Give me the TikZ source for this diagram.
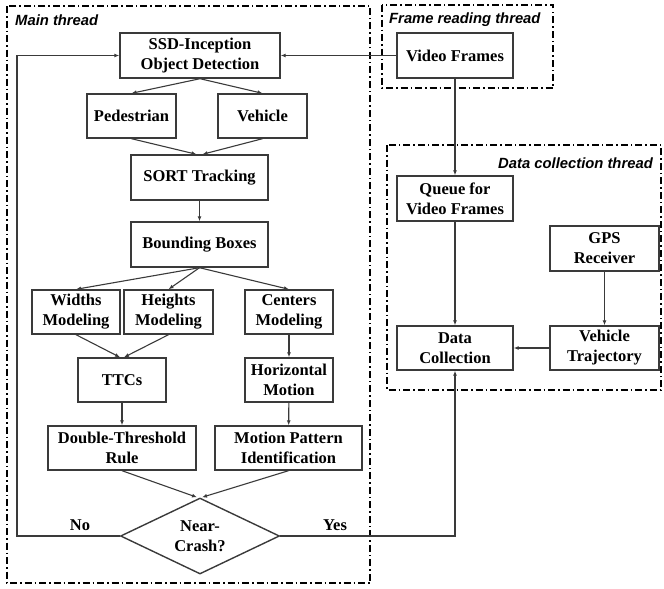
\documentclass[tikz,border=0pt]{standalone}
\usepackage{fontspec}
\setmainfont{Liberation Serif}
\newfontfamily\threadfont{Liberation Sans}
\usepackage{tikz}
\usetikzlibrary{shapes.geometric,arrows.meta}
\definecolor{linegray}{HTML}{3A3A3A}

\begin{document}
\begin{tikzpicture}[x=1pt,y=-1pt,
	box/.style={draw=linegray,line width=1.4pt,align=center,inner sep=1pt,
		font=\fontsize{16.5}{20}\selectfont\bfseries},
	link/.style={draw=linegray,line width=1.1pt,-{Latex[length=5pt,width=4pt]}},
	frame/.style={line width=1.6pt,dash pattern=on 7pt off 3pt on 1.5pt off 3pt},
	threadlabel/.style={font=\threadfont\fontsize{14.8}{17}\selectfont\bfseries\itshape,inner sep=0pt}]
	  \useasboundingbox (0,0) rectangle (664,589);
	  % thread frames
	  \draw [frame] (7,6) rectangle (370,583);
	  \draw [frame] (382,5) rectangle (553,88);
	  \draw [frame] (387,145) rectangle (661,390);
	  \node [threadlabel,anchor=west] (mainlbl) at (15,20) {Main thread};
	  \node [threadlabel,anchor=west] (framelbl) at (389,20) {Frame reading thread};
	  \node [threadlabel,anchor=east] (datalbl) at (653,163) {Data collection thread};
	  % main thread
	  \node [box,minimum width=160,minimum height=45] (ssd) at (200,55.5) {SSD-Inception\\Object Detection};
	  \node [box,minimum width=89,minimum height=44] (ped) at (131.5,116) {Pedestrian};
	  \node [box,minimum width=89,minimum height=44] (veh) at (262.5,116) {Vehicle};
	  \node [box,minimum width=137,minimum height=45] (sort) at (199.5,177.5) {SORT Tracking};
	  \node [box,minimum width=137,minimum height=45] (bbox) at (199.5,244.5) {Bounding Boxes};
	  \node [box,minimum width=88,minimum height=44] (wid) at (76,312) {Widths\\Modeling};
	  \node [box,minimum width=89,minimum height=44] (hei) at (168.5,312) {Heights\\Modeling};
	  \node [box,minimum width=88,minimum height=44] (cen) at (289,312) {Centers\\Modeling};
	  \node [box,minimum width=88,minimum height=44] (ttc) at (122,380) {TTCs};
	  \node [box,minimum width=88,minimum height=44] (hor) at (289,380) {Horizontal\\Motion};
	  \node [box,minimum width=148,minimum height=44] (dtr) at (122,448) {Double-Threshold\\Rule};
	  \node [box,minimum width=147,minimum height=44] (mpi) at (288.5,448) {Motion Pattern\\Identification};
	  \node [box,diamond,aspect=2,inner sep=0pt,minimum width=159,minimum height=76] (crash) at (200,536) {Near-\\Crash?};
	  \node [font=\fontsize{16.5}{20}\selectfont\bfseries] (nolbl) at (80,525) {No};
	  \node [font=\fontsize{16.5}{20}\selectfont\bfseries] (yeslbl) at (335,525) {Yes};
	  % other threads
	  \node [box,minimum width=116,minimum height=45] (vid) at (455,55.5) {Video Frames};
	  \node [box,minimum width=116,minimum height=45] (queue) at (455,198.5) {Queue for\\Video Frames};
	  \node [box,minimum width=109,minimum height=45] (gps) at (604.5,248.5) {GPS\\Receiver};
	  \node [box,minimum width=116,minimum height=44] (dcol) at (455,348) {Data\\Collection};
	  \node [box,minimum width=109,minimum height=44] (traj) at (604.5,348) {Vehicle\\Trajectory};
	  \coordinate (nocorner) at (17,536);
	  % connectors
	  \draw [link] (ssd.south) -- (ped.north);
	  \draw [link] (ssd.south) -- (veh.north);
	  \draw [link] (ped.south) -- ([xshift=-3pt]sort.north);
	  \draw [link] (veh.south) -- ([xshift=3pt]sort.north);
	  \draw [link] (sort) -- (bbox);
	  \draw [link] (bbox.south) -- (wid.north);
	  \draw [link] (bbox.south) -- (hei.north);
	  \draw [link] (bbox.south) -- (cen.north);
	  \draw [link] (wid.south) -- ([xshift=-2pt]ttc.north);
	  \draw [link] (hei.south) -- ([xshift=2pt]ttc.north);
	  \draw [link] (cen) -- (hor);
	  \draw [link] (ttc) -- (dtr);
	  \draw [link] (hor) -- (mpi);
	  \draw [link] (dtr.south) -- ([xshift=-3pt]crash.north);
	  \draw [link] (mpi.south) -- ([xshift=2pt]crash.north);
	  \draw [link] (crash.west) -- (nocorner) |- (ssd.west);
	  \draw [link] (crash.east) -| (dcol.south);
	  \draw [link] (vid) -- (ssd);
	  \draw [link] (vid) -- (queue);
	  \draw [link] (queue) -- (dcol);
	  \draw [link] (gps) -- (traj);
	  \draw [link] (traj) -- (dcol);
	 \end{tikzpicture}
\end{document}
